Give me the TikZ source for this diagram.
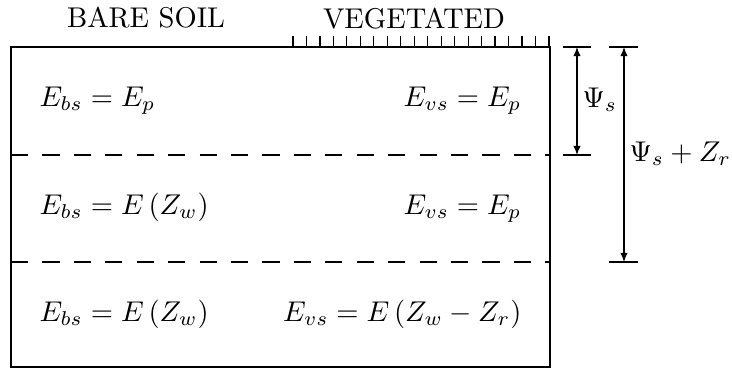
\documentclass[tikz,border=0pt]{standalone}
\usetikzlibrary{arrows.meta,positioning}
\tikzset{
  >={Latex[length=3.2pt,width=2.6pt]},
  every node/.style={font=\normalsize,inner sep=0pt},
  heading/.style={font=\normalsize},
  flux/.style={anchor=base west},
  fluxr/.style={anchor=base east},
  outline/.style={line width=0.5pt},
  layer/.style={line width=0.5pt,dash pattern=on 6pt off 5pt},
  canopy/.style={line width=0.4pt},
  dimbar/.style={line width=0.5pt},
  dimarr/.style={<->,line width=0.45pt},
}
\begin{document}
\begin{tikzpicture}[x=0.35pt,y=-0.35pt]
\useasboundingbox (0,0) rectangle (732,371);

% Headings
\node[heading] (bare) at (146,18) {BARE SOIL};
\node[heading] (veg) at (414,19) {VEGETATED};

% Soil column
\coordinate (nw) at (11,47);
\coordinate (se) at (550,367);
\draw[outline] (nw) rectangle (se);
\coordinate (d1w) at (11,155);
\coordinate (d1e) at (550,155);
\coordinate (d2w) at (11,262);
\coordinate (d2e) at (550,262);
\draw[layer] (d1w) -- (d1e);
\draw[layer] (d2w) -- (d2e);

% Vegetation
\foreach \i in {0,...,19} {\draw[canopy] (293+\i*13.47,36) -- (293+\i*13.47,47);}

% Rows
\node[flux] (bs1) at (39,106) {$E_{bs}=E_p$};
\node[fluxr] (vs1) at (522,106) {$E_{vs}=E_p$};
\node[flux] (bs2) at (39,214) {$E_{bs}=E\left(Z_w\right)$};
\node[fluxr] (vs2) at (522,214) {$E_{vs}=E_p$};
\node[flux] (bs3) at (39,321) {$E_{bs}=E\left(Z_w\right)$};
\node[fluxr] (vs3) at (522,321) {$E_{vs}=E\left(Z_w-Z_r\right)$};

% Depths
\coordinate (a1) at (577,47);
\coordinate (a2) at (577,155);
\coordinate (b1) at (624,47);
\coordinate (b2) at (624,262);
\draw[dimbar] ([xshift=-14*0.35pt]a1) -- ([xshift=14*0.35pt]a1);
\draw[dimbar] ([xshift=-14*0.35pt]a2) -- ([xshift=14*0.35pt]a2);
\draw[dimbar] ([xshift=-15*0.35pt]b1) -- ([xshift=14*0.35pt]b1);
\draw[dimbar] ([xshift=-15*0.35pt]b2) -- ([xshift=14*0.35pt]b2);
\draw[dimarr] (a1) -- (a2);
\draw[dimarr] (b1) -- (b2);
\node[anchor=west] (psi) at (582,100) {$\Psi_s$};
\node[anchor=west] (psiz) at (629,154) {$\Psi_s+Z_r$};

\end{tikzpicture}
\end{document}
